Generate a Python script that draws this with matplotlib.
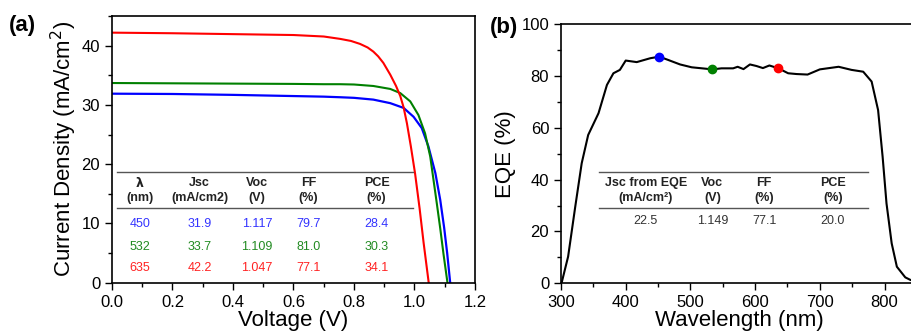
import numpy as np
import matplotlib.pyplot as plt
from matplotlib.ticker import MultipleLocator

plt.rcParams['font.family'] = ['Liberation Sans', 'DejaVu Sans']

# (a) J-V curves
v_blue = [0, 0.2, 0.4, 0.6, 0.7, 0.754, 0.8, 0.864, 0.92, 0.964, 0.997, 1.024, 1.046,
          1.069, 1.085, 1.098, 1.108, 1.118]
j_blue = [31.9, 31.85, 31.7, 31.5, 31.4, 31.3, 31.2, 30.9, 30.3, 29.5, 28.0, 26.1, 23.0,
          18.5, 14.0, 9.3, 5.0, 0]

v_green = [0, 0.2, 0.4, 0.6, 0.7, 0.754, 0.8, 0.864, 0.92, 0.953, 0.986, 1.013, 1.035,
           1.052, 1.063, 1.074, 1.085, 1.096, 1.109]
j_green = [33.7, 33.65, 33.6, 33.55, 33.5, 33.5, 33.45, 33.2, 32.7, 32.0, 30.6, 28.3, 25.2,
           21.3, 17.3, 13.3, 9.2, 4.8, 0]

v_red = [0, 0.2, 0.4, 0.6, 0.7, 0.754, 0.79, 0.82, 0.845, 0.864, 0.88, 0.897, 0.92, 0.939,
         0.953, 0.964, 0.975, 0.988, 1.002, 1.017, 1.03, 1.047]
j_red = [42.2, 42.1, 41.95, 41.8, 41.55, 41.15, 40.8, 40.3, 39.7, 39.0, 38.2, 37.1, 35.1, 33.2,
         31.5, 29.6, 26.9, 23.0, 18.4, 12.5, 6.8, 0]

# table in (a)
lam = ["450", "532", "635"]
jsc = ["31.9", "33.7", "42.2"]
voc = ["1.117", "1.109", "1.047"]
ff = ["79.7", "81.0", "77.1"]
pce = ["28.4", "30.3", "34.1"]

# (b) EQE spectrum
wl = [300, 301, 311, 322, 332, 342, 358, 371, 381, 391, 400, 417, 438, 452, 466, 484, 502,
      518, 534, 548, 566, 573, 582, 592, 602, 612, 622, 636, 651, 664, 681, 700, 729, 749,
      767, 780, 790, 797, 803, 811, 819, 832, 840, 850]
eqe = [0, 0.2, 10.3, 29.5, 46.3, 57.2, 65.6, 76.5, 81.0, 82.3, 85.9, 85.3, 86.8, 87.4, 86.1,
       84.4, 83.3, 82.9, 82.5, 82.9, 82.9, 83.5, 82.6, 84.4, 83.8, 83.0, 84.0, 82.9, 81.0,
       80.7, 80.5, 82.5, 83.5, 82.3, 81.6, 77.8, 66.8, 48.8, 30.8, 15.4, 6.4, 2.3, 1.3, 0.8]
mark_wl = [452, 534, 636]
mark_eqe = [87.4, 82.5, 82.9]
colors = ['#0000ff', '#008000', '#ff0000']
text_colors = ['#3333ff', '#228b22', '#ff2222']

fig = plt.figure(figsize=(9.11, 3.36), dpi=100)
ax1 = fig.add_axes([0.1229, 0.1586, 0.3985, 0.7936])
ax2 = fig.add_axes([0.6158, 0.1568, 0.3907, 0.7718])

# ---- panel (a)
ax1.plot(v_blue, j_blue, color=colors[0], lw=1.6)
ax1.plot(v_green, j_green, color=colors[1], lw=1.5)
ax1.plot(v_red, j_red, color=colors[2], lw=1.5)
ax1.set_xlim(0, 1.2)
ax1.set_ylim(0, 45)
ax1.xaxis.set_major_locator(MultipleLocator(0.2))
ax1.xaxis.set_minor_locator(MultipleLocator(0.1))
ax1.yaxis.set_major_locator(MultipleLocator(10))
ax1.yaxis.set_minor_locator(MultipleLocator(5))
ax1.xaxis.set_major_formatter(plt.FormatStrFormatter('%.1f'))
ax1.set_xlabel("Voltage (V)", fontsize=16, labelpad=0)
ax1.set_ylabel("Current Density (mA/cm$^2$)", fontsize=16, labelpad=2)

tab_x = [0.092, 0.29, 0.48, 0.649, 0.875]
heads1 = ["λ", "Jsc", "Voc", "FF", "PCE"]
heads2 = ["(nm)", "(mA/cm2)", "(V)", "(%)", "(%)"]
ax1.plot([0.016, 0.995], [18.75, 18.75], color='#555555', lw=1)
ax1.plot([0.016, 0.995], [12.57, 12.57], color='#555555', lw=1)
for x, h1, h2 in zip(tab_x, heads1, heads2):
    ax1.text(x, 16.8, h1, ha='center', va='center', fontsize=9, fontweight='bold',
             color='#222222', family=['DejaVu Sans'] if h1 == "λ" else None)
    ax1.text(x, 14.26, h2, ha='center', va='center', fontsize=9, fontweight='bold', color='#222222')
row_y = [9.9, 6.08, 2.53]
for i in range(3):
    vals = [lam[i], jsc[i], voc[i], ff[i], pce[i]]
    for x, s in zip(tab_x, vals):
        ax1.text(x, row_y[i], s, ha='center', va='center', fontsize=9, color=text_colors[i])

# ---- panel (b)
ax2.plot(wl, eqe, color='black', lw=1.5)
for w, e, c in zip(mark_wl, mark_eqe, colors):
    ax2.plot(w, e, 'o', color=c, markersize=6, zorder=3)
ax2.set_xlim(300, 850)
ax2.set_ylim(0, 100)
ax2.xaxis.set_major_locator(MultipleLocator(100))
ax2.xaxis.set_minor_locator(MultipleLocator(50))
ax2.yaxis.set_major_locator(MultipleLocator(20))
ax2.yaxis.set_minor_locator(MultipleLocator(10))
ax2.set_xlabel("Wavelength (nm)", fontsize=16, labelpad=0)
ax2.set_ylabel("EQE (%)", fontsize=16, labelpad=4)

tb_x = [431, 534, 614, 720]
hb1 = ["Jsc from EQE", "Voc", "FF", "PCE"]
hb2 = ["(mA/cm²)", "(V)", "(%)", "(%)"]
vb = ["22.5", "1.149", "77.1", "20.0"]
ax2.plot([358, 775], [43.0, 43.0], color='#555555', lw=1)
ax2.plot([358, 775], [28.9, 28.9], color='#555555', lw=1)
for x, h1, h2, v in zip(tb_x, hb1, hb2, vb):
    ax2.text(x, 38.6, h1, ha='center', va='center', fontsize=9, fontweight='bold', color='#222222')
    ax2.text(x, 32.8, h2, ha='center', va='center', fontsize=9, fontweight='bold', color='#222222')
    ax2.text(x, 24.0, v, ha='center', va='center', fontsize=9, color='#333333')

for ax in (ax1, ax2):
    ax.tick_params(which='both', direction='out', top=False, right=False, labelsize=12, width=1)
    ax.tick_params(which='major', length=5)
    ax.tick_params(which='minor', length=3)
    for s in ax.spines.values():
        s.set_linewidth(1.2)

fig.text(0.010, 0.925, "(a)", fontsize=16, fontweight='bold', va='center')
fig.text(0.538, 0.918, "(b)", fontsize=16, fontweight='bold', va='center')

plt.savefig("out.png", dpi=100)
